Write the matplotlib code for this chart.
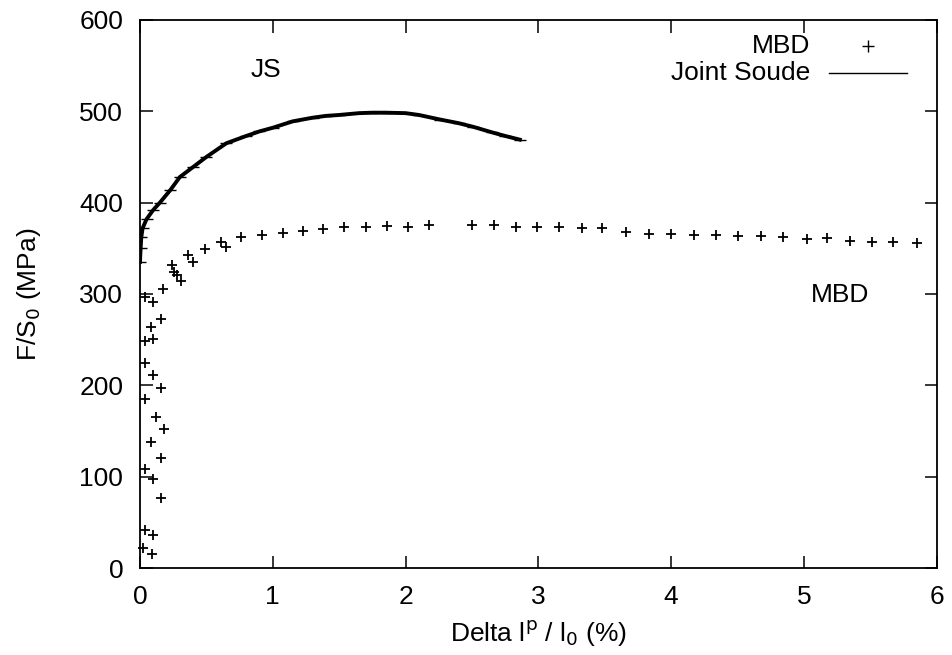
#!/usr/bin/env python3

# Tensile curves: MBD base metal points vs welded joint (Joint Soude)
# Usage:
#   $ python3 plot.py

import matplotlib
matplotlib.use('Agg')
import matplotlib.pyplot as plt
from matplotlib.lines import Line2D


# MBD test points (Delta l^p / l0 in %, F/S0 in MPa)
mbd_x = [0.09, 0.02, 0.10, 0.04, 0.16, 0.10, 0.035, 0.16, 0.08, 0.18,
         0.12, 0.035, 0.16, 0.10, 0.04, 0.04, 0.10, 0.08, 0.16, 0.10,
         0.04, 0.175, 0.31, 0.28, 0.26, 0.24, 0.40, 0.36, 0.49, 0.65,
         0.61, 0.76, 0.92, 1.075, 1.226, 1.376, 1.534, 1.699, 1.857, 2.015,
         2.180, 2.504, 2.669, 2.835, 2.992, 3.158, 3.331, 3.481, 3.66, 3.83,
         4.00, 4.17, 4.34, 4.50, 4.68, 4.84, 5.02, 5.17, 5.35, 5.51,
         5.67, 5.85]
mbd_y = [15, 22, 36, 42, 77, 98, 108, 120, 138, 152,
         165, 185, 197, 211, 224, 249, 251, 264, 273, 291,
         297, 306, 314, 321, 324, 332, 335, 343, 349, 352,
         357, 362, 365, 367, 369, 371, 373, 373, 374, 373,
         375, 375, 375, 373, 373, 373, 372, 372, 368, 366,
         366, 365, 365, 364, 363, 362, 360, 361, 358, 357,
         357, 356]

# Welded joint curve
js_x = [0.0, 0.005, 0.01, 0.02, 0.05, 0.10, 0.15, 0.23, 0.30, 0.40,
        0.50, 0.65, 0.80, 0.90, 1.00, 1.15, 1.30, 1.40, 1.50, 1.65,
        1.75, 1.85, 2.00, 2.10, 2.26, 2.40, 2.51, 2.65, 2.75, 2.86]
js_y = [335, 350, 362, 372, 382, 392, 400, 414, 428, 439,
        450, 465, 473, 478, 482, 489, 493, 495, 496, 498,
        498.5, 498.5, 498, 496, 491, 487, 483, 477, 473, 469]

xticks = [0, 1, 2, 3, 4, 5, 6]
yticks = [0, 100, 200, 300, 400, 500, 600]


def main():

  plt.rcParams['font.family'] = ['Liberation Sans', 'DejaVu Sans']
  plt.rcParams['font.size'] = 19

  fig = plt.figure(figsize=(9.52, 6.55), dpi=100)
  ax = fig.add_axes([0.147, 0.1328, 0.837, 0.8367])

  # Data
  ax.plot(mbd_x, mbd_y, linestyle='none', marker='+', markersize=7.5,
    markeredgewidth=1.3, color='black', clip_on=False)
  ax.plot(js_x, js_y, color='black', linewidth=2.8, marker='_',
    markersize=9, markeredgewidth=1.0)

  ax.set_xlim(0, 6)
  ax.set_ylim(0, 600)
  ax.set_xticks(xticks)
  ax.set_yticks(yticks)
  ax.tick_params(direction='in', top=True, right=True, length=9, width=1.1)
  ax.tick_params(axis='x', pad=12)
  ax.tick_params(axis='y', pad=12)
  for sp in ax.spines.values():
    sp.set_linewidth(1.3)

  ax.set_xlabel('Delta l$^{\\mathrm{p}}$ / l$_0$ (%)', labelpad=7)
  ax.set_ylabel('F/S$_0$ (MPa)', labelpad=26)

  # Curve labels
  ax.text(0.95, 545, 'JS', ha='center', va='center')
  ax.text(5.27, 299, 'MBD', ha='center', va='center')

  # Gnuplot-style key: text right-aligned, sample to the right
  tr = ax.transAxes
  ax.text(0.8407, 0.9526, 'MBD', transform=tr, ha='right', va='center')
  ax.text(0.8407, 0.9033, 'Joint Soude', transform=tr, ha='right',
    va='center')
  ax.add_line(Line2D([0.9134], [0.9526], transform=tr, marker='+',
    markersize=8, markeredgewidth=1.0, color='black', linestyle='none'))
  ax.add_line(Line2D([0.8645, 0.9624], [0.9033, 0.9033], transform=tr,
    color='black', linewidth=1.0))

  fig.savefig('out.png', dpi=100)


if __name__ == '__main__':
  main()
